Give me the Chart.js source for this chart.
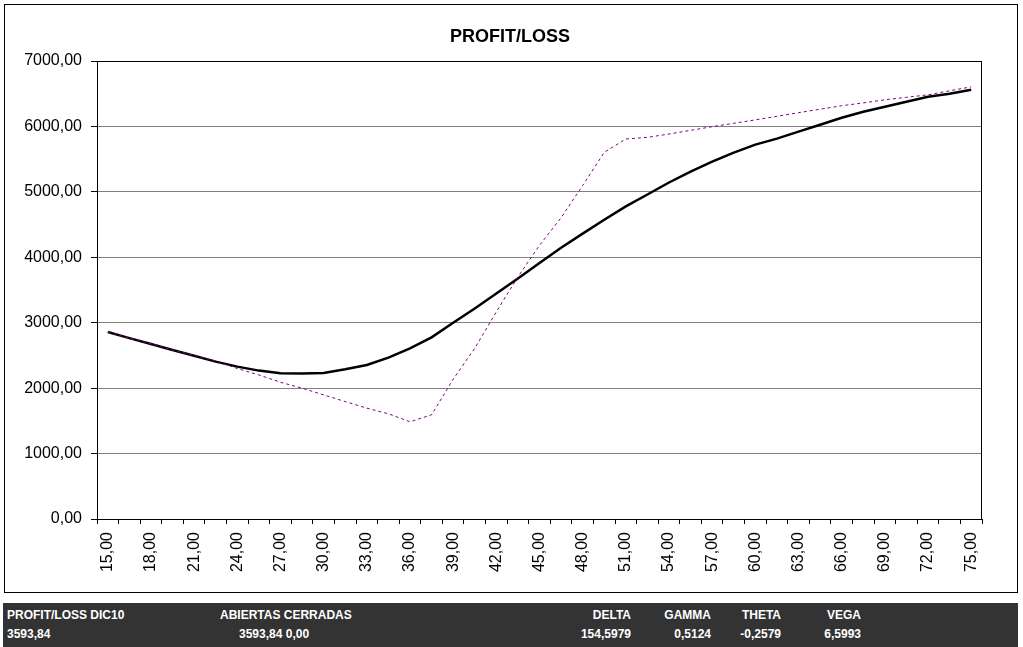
<!DOCTYPE html>
<html>
<head>
<meta charset="utf-8">
<script src="https://cdn.jsdelivr.net/npm/chart.js@4.4.1/dist/chart.umd.min.js"></script>
<style>
  body { margin: 0; background: #fff; font-family: "Liberation Sans", Arial, sans-serif; }
  #frame { position: absolute; left: 4px; top: 4px; width: 1012px; height: 587px; border: 1px solid #000; }
  #plChart { position: absolute; left: 0; top: 0; }
  #bar { position: absolute; left: 3px; top: 603px; width: 1015px; height: 44px; background: #333; color: #fff; font-weight: bold; font-size: 12px; }
  #bar span { position: absolute; white-space: nowrap; }
  .r1 { top: 5px; }
  .r2 { top: 24px; }
</style>
</head>
<body>
<div id="frame"></div>
<canvas id="plChart" width="1023" height="600"></canvas>
<div id="bar">
  <span class="r1" style="left:4px">PROFIT/LOSS DIC10</span>
  <span class="r1" style="left:217px">ABIERTAS CERRADAS</span>
  <span class="r1" style="right:387px">DELTA</span>
  <span class="r1" style="right:307px">GAMMA</span>
  <span class="r1" style="right:237px">THETA</span>
  <span class="r1" style="right:157px">VEGA</span>
  <span class="r2" style="left:4px">3593,84</span>
  <span class="r2" style="left:236px">3593,84 0,00</span>
  <span class="r2" style="right:387px">154,5979</span>
  <span class="r2" style="right:307px">0,5124</span>
  <span class="r2" style="right:237px">-0,2579</span>
  <span class="r2" style="right:157px">6,5993</span>
</div>
<script>
(() => {
    const chartTitle = 'PROFIT/LOSS';

    // underlying price, every 1.5
    const prices = [15, 16.5, 18, 19.5, 21, 22.5, 24, 25.5, 27, 28.5, 30, 31.5, 33, 34.5, 36,
        37.5, 39, 40.5, 42, 43.5, 45, 46.5, 48, 49.5, 51,
        52.5, 54, 55.5, 57, 58.5, 60, 61.5, 63, 64.5, 66, 67.5, 69, 70.5, 72, 73.5, 75];

    // today's P/L (black)
    const plToday = [2857, 2765, 2674, 2583, 2496, 2405, 2329, 2268, 2228, 2222, 2232, 2289, 2354, 2466, 2609,
        2776, 2999, 3218, 3446, 3675, 3913, 4147, 4361, 4574, 4777,
        4960, 5143, 5310, 5462, 5600, 5722, 5813, 5920, 6026, 6133, 6225, 6301, 6377, 6453, 6499, 6560];

    // P/L at expiry (purple dashed)
    const plExpiry = [2857, 2765, 2680, 2583, 2500, 2415, 2300, 2202, 2090, 1999, 1897, 1795, 1694, 1608, 1486,
        1592, 2136, 2609, 3167, 3700, 4183, 4605, 5097, 5604, 5808,
        5833, 5884, 5940, 5996, 6048, 6100, 6155, 6210, 6263, 6316, 6360, 6407, 6445, 6483, 6545, 6605];

    const yMin = 0;
    const yMax = 7000;
    const yStep = 1000;

    const fmt = v => Number(v).toFixed(2).replace('.', ',');

    Chart.defaults.font.family = '"Liberation Sans", Arial, sans-serif';
    Chart.defaults.color = '#000';

    const titlePlugin = {
        id: 'plTitle',
        afterDraw(chart) {
            const c = chart.ctx;
            c.save();
            c.font = 'bold 18px "Liberation Sans", Arial, sans-serif';
            c.fillStyle = '#000';
            c.textAlign = 'center';
            c.textBaseline = 'middle';
            c.fillText(chartTitle, 510, 37);
            c.restore();
        }
    };

    const boxPlugin = {
        id: 'plotBox',
        afterDraw(chart) {
            const { left, top, right, bottom } = chart.chartArea;
            const c = chart.ctx;
            c.save();
            c.strokeStyle = '#000';
            c.lineWidth = 1;
            c.strokeRect(Math.round(left) + 0.5, Math.round(top) + 0.5,
                Math.round(right - left) - 1, Math.round(bottom - top));
            c.restore();
        }
    };

    const ctx = document.getElementById('plChart').getContext('2d');

    new Chart(ctx, {
        type: 'line',
        data: {
            labels: prices.map(fmt),
            datasets: [
                {
                    label: 'Vencimiento',
                    data: plExpiry,
                    borderColor: '#800080',
                    borderWidth: 1,
                    borderDash: [3, 3],
                    pointRadius: 0,
                    tension: 0,
                    fill: false,
                },
                {
                    label: 'Hoy',
                    data: plToday,
                    borderColor: '#000',
                    borderWidth: 2.5,
                    pointRadius: 0,
                    tension: 0,
                    fill: false,
                },
            ]
        },
        options: {
            responsive: false,
            animation: false,
            layout: { padding: { top: 61, left: 10, right: 41, bottom: 20 } },
            plugins: {
                legend: { display: false },
                title: { display: false },
                tooltip: { enabled: false },
            },
            scales: {
                x: {
                    type: 'category',
                    offset: true,
                    border: { color: '#000', width: 1 },
                    grid: { offset: true, drawOnChartArea: false, tickLength: 5, tickColor: '#000' },
                    ticks: {
                        autoSkip: false,
                        minRotation: 90,
                        maxRotation: 90,
                        padding: 8,
                        font: { size: 16 },
                        callback: (v, i) => (i % 2 === 0 ? fmt(prices[i]) : ''),
                    },
                    afterFit: s => { s.height = 61; },
                },
                y: {
                    min: yMin,
                    max: yMax,
                    border: { color: '#000', width: 1 },
                    grid: { color: '#808080', tickLength: 6, tickColor: '#000' },
                    ticks: {
                        stepSize: yStep,
                        padding: 9,
                        font: { size: 16 },
                        callback: v => fmt(v),
                    },
                    afterFit: s => { s.width = 87; },
                }
            }
        },
        plugins: [titlePlugin, boxPlugin]
    });
})();
</script>
</body>
</html>
